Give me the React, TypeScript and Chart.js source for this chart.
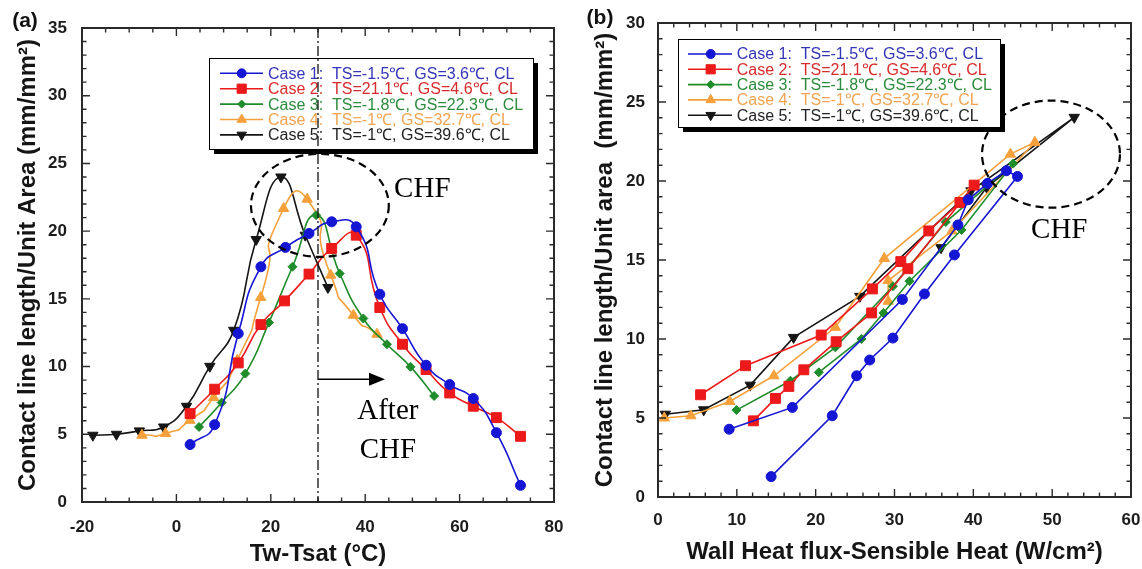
import React, { useEffect, useRef } from 'react';
import { Chart, registerables } from 'chart.js';
import { drawPoint } from 'chart.js/helpers';

Chart.register(...registerables);

// ---------------- Panel (a): contact line vs Tw-Tsat ----------------
const A_CASE1_X = [2.9, 8.1, 13.1, 17.9, 23.1, 28.1, 32.9, 38.1, 43.1, 47.9, 52.9, 57.9, 62.9, 67.8, 72.9];
const A_CASE1_Y = [4.24, 5.71, 12.44, 17.37, 18.8, 19.83, 20.69, 20.32, 15.34, 12.8, 10.1, 8.67, 7.64, 5.12, 1.23];
const A_CASE2_X = [2.9, 8.1, 13.1, 17.9, 22.9, 28.1, 32.9, 38.1, 43.1, 47.9, 52.9, 57.9, 62.9, 67.8, 72.9];
const A_CASE2_Y = [6.53, 8.33, 10.27, 13.1, 14.85, 16.83, 18.72, 19.7, 14.36, 11.65, 9.78, 8.05, 7.07, 6.23, 4.85];
const A_CASE3_X = [4.8, 9.6, 14.6, 19.6, 24.6, 29.6, 34.6, 39.6, 44.6, 49.6, 54.6];
const A_CASE3_Y = [5.54, 7.34, 9.48, 13.25, 17.37, 21.18, 16.87, 13.55, 11.65, 9.98, 7.83];
const A_CASE4_X = [-7.3, -2.3, 2.85, 7.9, 12.9, 17.85, 22.7, 27.7, 32.7, 37.5, 42.5];
const A_CASE4_Y = [4.93, 5.05, 6.03, 7.71, 10.47, 15.1, 21.67, 22.36, 16.75, 13.79, 12.39];
const A_CASE5_X = [-17.7, -12.7, -7.85, -2.7, 2.15, 7.08, 12.15, 16.9, 22.15, 27.3, 32.1];
const A_CASE5_Y = [4.93, 5.0, 5.25, 5.54, 7.07, 10.02, 12.68, 19.38, 24.0, 19.7, 15.84];

// ---------------- Panel (b): contact line vs heat flux ----------------
const B_CASE1_X = [9.03, 17.04, 31.0, 38.05, 39.35, 41.8, 44.2, 45.6, 37.6, 33.8, 29.8, 26.85, 25.2, 22.1, 14.35];
const B_CASE1_Y = [4.29, 5.67, 12.5, 17.22, 18.81, 19.85, 20.65, 20.29, 15.32, 12.85, 10.06, 8.67, 7.67, 5.14, 1.29];
const B_CASE2_X = [5.4, 11.1, 20.7, 27.2, 30.8, 34.35, 38.3, 40.1, 31.7, 27.1, 22.6, 18.5, 16.6, 14.9, 12.1];
const B_CASE2_Y = [6.47, 8.31, 10.25, 13.17, 14.9, 16.84, 18.64, 19.74, 14.45, 11.65, 9.83, 8.05, 7.0, 6.24, 4.82];
const B_CASE3_X = [9.95, 16.8, 22.5, 29.8, 36.5, 45.05, 38.5, 31.9, 28.6, 25.8, 20.4];
const B_CASE3_Y = [5.5, 7.36, 9.47, 13.34, 17.4, 21.1, 16.9, 13.66, 11.65, 10.0, 7.89];
const B_CASE4_X = [0.8, 4.17, 9.1, 14.7, 22.5, 28.7, 44.7, 47.8, 37.3, 29.2, 29.2];
const B_CASE4_Y = [5.0, 5.14, 6.05, 7.67, 10.74, 15.1, 21.7, 22.45, 16.84, 13.7, 12.39];
const B_CASE5_X = [0.93, 5.8, 11.7, 17.2, 25.6, 39.7, 52.8, 41.7, 35.9];
const B_CASE5_Y = [5.24, 5.52, 7.08, 10.1, 12.7, 19.38, 24.03, 19.6, 15.78];

const CASE_LABELS = [
  'Case 1:  TS=-1.5℃, GS=3.6℃, CL',
  'Case 2:  TS=21.1℃, GS=4.6℃, CL',
  'Case 3:  TS=-1.8℃, GS=22.3℃, CL',
  'Case 4:  TS=-1℃, GS=32.7℃, CL',
  'Case 5:  TS=-1℃, GS=39.6℃, CL',
];

// annotation values (data units)
const A_CHF_LINE_X = 30;
const A_ELLIPSE = { cx: 30.4, cy: 21.9, rx: 14.6, ry: 3.8 };
const A_ARROW = { x0: 30, x1: 44.2, y: 9.06 };
const A_CHF_TEXT = { x: 52.1, y: 23.1 };
const A_AFTER_TEXT = { x: 44.8, y1: 6.72, y2: 3.82 };
const B_ELLIPSE = { cx: 49.85, cy: 21.7, rx: 8.75, ry: 3.39 };
const B_CHF_TEXT = { x: 50.9, y: 16.9 };

const COLORS = ['#1515d4', '#ec1a1a', '#1f8c2a', '#f5a03a', '#151515'];
const TEXT_COLORS = ['#3535b8', '#d82c2c', '#2c8c3c', '#f2a452', '#242424'];
const POINT_STYLES = ['circle', 'rect', 'rectRot', 'triangle', 'triangle'];
const POINT_ROT = [0, 0, 0, 0, 180];
const POINT_RADIUS = [5, 7, 4.5, 6, 6];
const A_TENSION = [0.55, 0.55, 0.55, 0.9, 0.5];

const SANS = '"Liberation Sans", Arial, Helvetica, sans-serif';
const SERIF = '"Liberation Serif", "Times New Roman", serif';
const CW = 571;
const CH = 569;

function makeDatasets(xs: number[][], ys: number[][], tension: number[]) {
  return xs.map((xv, i) => ({
    label: CASE_LABELS[i],
    data: xv.map((x, j) => ({ x, y: ys[i][j] })),
    borderColor: COLORS[i],
    backgroundColor: COLORS[i],
    borderWidth: 1.6,
    pointStyle: POINT_STYLES[i] as any,
    pointRotation: POINT_ROT[i],
    pointRadius: POINT_RADIUS[i],
    pointBorderWidth: 1,
    tension: tension[i],
    fill: false,
  }));
}

type LegendSpec = { bx: number; by: number; bw: number; bh: number; row0: number; step: number; l0: number; l1: number; mx: number; tx: number };

function drawFrame(chart: any, xMinor: number, xMajor: number, yMinor: number, yMajor: number) {
  const { ctx, chartArea: a } = chart;
  const xs = chart.scales.x;
  const ys = chart.scales.y;
  ctx.save();
  ctx.strokeStyle = '#2a2a2a';
  ctx.lineWidth = 1.4;
  ctx.beginPath();
  for (let v = xs.min; v <= xs.max + 1e-9; v += xMinor) {
    const p = xs.getPixelForValue(v);
    const major = Math.abs(v / xMajor - Math.round(v / xMajor)) < 1e-6;
    const L = major ? 8 : 4.5;
    ctx.moveTo(p, a.bottom); ctx.lineTo(p, a.bottom - L);
    ctx.moveTo(p, a.top); ctx.lineTo(p, a.top + L);
  }
  for (let v = ys.min; v <= ys.max + 1e-9; v += yMinor) {
    const p = ys.getPixelForValue(v);
    const major = Math.abs(v / yMajor - Math.round(v / yMajor)) < 1e-6;
    const L = major ? 8 : 4.5;
    ctx.moveTo(a.left, p); ctx.lineTo(a.left + L, p);
    ctx.moveTo(a.right, p); ctx.lineTo(a.right - L, p);
  }
  ctx.stroke();
  ctx.lineWidth = 2;
  ctx.strokeRect(a.left, a.top, a.right - a.left, a.bottom - a.top);
  ctx.restore();
}

function drawLegend(chart: any, L: LegendSpec) {
  const { ctx } = chart;
  ctx.save();
  ctx.fillStyle = '#000';
  ctx.fillRect(L.bx + 5, L.by + 5, L.bw, L.bh);
  ctx.fillStyle = '#fff';
  ctx.fillRect(L.bx, L.by, L.bw, L.bh);
  ctx.strokeStyle = '#000';
  ctx.lineWidth = 1;
  ctx.strokeRect(L.bx + 0.5, L.by + 0.5, L.bw, L.bh);
  ctx.font = `16px ${SANS}`;
  ctx.textAlign = 'left';
  ctx.textBaseline = 'middle';
  for (let i = 0; i < CASE_LABELS.length; i++) {
    const y = L.row0 + i * L.step;
    ctx.strokeStyle = COLORS[i];
    ctx.lineWidth = 1.6;
    ctx.beginPath();
    ctx.moveTo(L.l0, y);
    ctx.lineTo(L.l1, y);
    ctx.stroke();
    ctx.fillStyle = COLORS[i];
    ctx.strokeStyle = COLORS[i];
    ctx.lineWidth = 1;
    drawPoint(ctx, { pointStyle: POINT_STYLES[i] as any, rotation: POINT_ROT[i], radius: POINT_RADIUS[i] - 0.5, borderWidth: 1 } as any, L.mx, y);
    ctx.fillStyle = TEXT_COLORS[i];
    ctx.fillText(CASE_LABELS[i], L.tx, y + 1);
  }
  ctx.restore();
}

function dashedEllipse(chart: any, e: { cx: number; cy: number; rx: number; ry: number }) {
  const { ctx } = chart;
  const xs = chart.scales.x;
  const ys = chart.scales.y;
  const px = xs.getPixelForValue(e.cx);
  const py = ys.getPixelForValue(e.cy);
  const rx = xs.getPixelForValue(e.cx + e.rx) - px;
  const ry = py - ys.getPixelForValue(e.cy + e.ry);
  ctx.save();
  ctx.strokeStyle = '#000';
  ctx.lineWidth = 2.2;
  ctx.setLineDash([8, 5]);
  ctx.beginPath();
  ctx.ellipse(px, py, rx, ry, 0, 0, Math.PI * 2);
  ctx.stroke();
  ctx.restore();
}

function serifText(chart: any, text: string, x: number, y: number) {
  const { ctx } = chart;
  ctx.save();
  ctx.fillStyle = '#000';
  ctx.font = `29px ${SERIF}`;
  ctx.textAlign = 'center';
  ctx.textBaseline = 'middle';
  ctx.fillText(text, chart.scales.x.getPixelForValue(x), chart.scales.y.getPixelForValue(y));
  ctx.restore();
}

function panelLabel(chart: any, text: string, x: number, y: number) {
  const { ctx } = chart;
  ctx.save();
  ctx.fillStyle = '#111';
  ctx.font = `bold 21px ${SANS}`;
  ctx.textAlign = 'center';
  ctx.textBaseline = 'middle';
  ctx.fillText(text, x, y);
  ctx.restore();
}

const pluginA = {
  id: 'decoA',
  afterDraw(chart: any) {
    const { ctx, chartArea: a } = chart;
    const xs = chart.scales.x;
    const ys = chart.scales.y;
    drawFrame(chart, 5, 20, 1, 5);
    dashedEllipse(chart, A_ELLIPSE);
    serifText(chart, 'CHF', A_CHF_TEXT.x, A_CHF_TEXT.y);
    serifText(chart, 'After', A_AFTER_TEXT.x, A_AFTER_TEXT.y1);
    serifText(chart, 'CHF', A_AFTER_TEXT.x, A_AFTER_TEXT.y2);
    // arrow
    const ax0 = xs.getPixelForValue(A_ARROW.x0);
    const ax1 = xs.getPixelForValue(A_ARROW.x1);
    const ay = ys.getPixelForValue(A_ARROW.y);
    ctx.save();
    ctx.strokeStyle = '#000';
    ctx.fillStyle = '#000';
    ctx.lineWidth = 1.5;
    ctx.beginPath();
    ctx.moveTo(ax0, ay);
    ctx.lineTo(ax1 - 10, ay);
    ctx.stroke();
    ctx.beginPath();
    ctx.moveTo(ax1, ay);
    ctx.lineTo(ax1 - 16, ay - 6.5);
    ctx.lineTo(ax1 - 16, ay + 6.5);
    ctx.closePath();
    ctx.fill();
    ctx.restore();
    drawLegend(chart, { bx: 209, by: 58, bw: 324, bh: 91, row0: 73.3, step: 15.4, l0: 220, l1: 263, mx: 241.7, tx: 268 });
    // dash-dot CHF line
    const lx = xs.getPixelForValue(A_CHF_LINE_X);
    ctx.save();
    ctx.strokeStyle = '#111';
    ctx.lineWidth = 1.3;
    ctx.setLineDash([10, 3, 2, 3]);
    ctx.beginPath();
    ctx.moveTo(lx, a.top);
    ctx.lineTo(lx, a.bottom);
    ctx.stroke();
    ctx.restore();
    panelLabel(chart, '(a)', 25, 21);
  },
};

const pluginB = {
  id: 'decoB',
  afterDraw(chart: any) {
    drawFrame(chart, 2, 10, 1, 5);
    dashedEllipse(chart, B_ELLIPSE);
    serifText(chart, 'CHF', B_CHF_TEXT.x, B_CHF_TEXT.y);
    drawLegend(chart, { bx: 107, by: 39, bw: 322, bh: 88, row0: 54, step: 15.3, l0: 117, l1: 161, mx: 139.7, tx: 165.7 });
    panelLabel(chart, '(b)', 29, 18);
  },
};

function axisCommon(min: number, max: number, step: number, pad: number) {
  return {
    type: 'linear' as const,
    min,
    max,
    grid: { display: false, drawTicks: false },
    border: { display: false },
    ticks: { stepSize: step, padding: pad, color: '#1c1c1c', maxRotation: 0, font: { family: SANS, size: 17, weight: 'bold' as const } },
  };
}

function fitX(h: number) {
  return (s: any) => {
    s.height = h;
    s.paddingLeft = 0;
    s.paddingRight = 0;
  };
}
function fitY(w: number) {
  return (s: any) => {
    s.width = w;
    s.paddingTop = 0;
    s.paddingBottom = 0;
  };
}

function configA(): any {
  return {
    type: 'line',
    data: {
      datasets: makeDatasets([A_CASE1_X, A_CASE2_X, A_CASE3_X, A_CASE4_X, A_CASE5_X], [A_CASE1_Y, A_CASE2_Y, A_CASE3_Y, A_CASE4_Y, A_CASE5_Y], A_TENSION),
    },
    options: {
      responsive: false,
      devicePixelRatio: 1,
      animation: false,
      layout: { padding: { left: 0, top: 28, right: 17, bottom: 0 } },
      plugins: { legend: { display: false }, tooltip: { enabled: false } },
      scales: {
        x: {
          ...axisCommon(-20, 80, 20, 15),
          position: 'bottom',
          title: { display: true, text: 'Tw-Tsat (°C)', color: '#151515', font: { family: SANS, size: 24, weight: 'bold' }, padding: { top: 0, bottom: 0 } },
          afterFit: fitX(67),
        },
        y: {
          ...axisCommon(0, 35, 5, 15),
          position: 'left',
          title: { display: true, text: 'Contact line length/Unit Area (mm/mm²)', color: '#151515', font: { family: SANS, size: 24, weight: 'bold' }, padding: { top: 14, bottom: 0 } },
          afterFit: fitY(82),
        },
      },
    },
    plugins: [pluginA],
  };
}

function configB(): any {
  return {
    type: 'line',
    data: {
      datasets: makeDatasets([B_CASE1_X, B_CASE2_X, B_CASE3_X, B_CASE4_X, B_CASE5_X], [B_CASE1_Y, B_CASE2_Y, B_CASE3_Y, B_CASE4_Y, B_CASE5_Y], [0, 0, 0, 0, 0]),
    },
    options: {
      responsive: false,
      devicePixelRatio: 1,
      animation: false,
      layout: { padding: { left: 0, top: 23, right: 11, bottom: 0 } },
      plugins: { legend: { display: false }, tooltip: { enabled: false } },
      scales: {
        x: {
          ...axisCommon(0, 60, 10, 13),
          position: 'bottom',
          title: { display: true, text: 'Wall Heat flux-Sensible Heat (W/cm²)', color: '#151515', font: { family: SANS, size: 24, weight: 'bold' }, padding: { top: 0, bottom: 2.5 } },
          afterFit: fitX(72),
        },
        y: {
          ...axisCommon(0, 30, 5, 13),
          position: 'left',
          title: { display: true, text: 'Contact line length/Unit area  (mm/mm²)', color: '#151515', font: { family: SANS, size: 24, weight: 'bold' }, padding: { top: 19.5, bottom: 0 } },
          afterFit: fitY(87),
        },
      },
    },
    plugins: [pluginB],
  };
}

export default function App() {
  const refA = useRef<HTMLCanvasElement | null>(null);
  const refB = useRef<HTMLCanvasElement | null>(null);
  useEffect(() => {
    const ca = new Chart(refA.current as HTMLCanvasElement, configA());
    const cb = new Chart(refB.current as HTMLCanvasElement, configB());
    return () => {
      ca.destroy();
      cb.destroy();
    };
  }, []);
  return (
    <div style={{ position: 'absolute', left: 0, top: 0, width: 1142, height: 569, background: '#fff', overflow: 'hidden' }}>
      <canvas ref={refA} width={CW} height={CH} style={{ position: 'absolute', left: 0, top: 0, width: CW, height: CH }} />
      <canvas ref={refB} width={CW} height={CH} style={{ position: 'absolute', left: 571, top: 0, width: CW, height: CH }} />
    </div>
  );
}
